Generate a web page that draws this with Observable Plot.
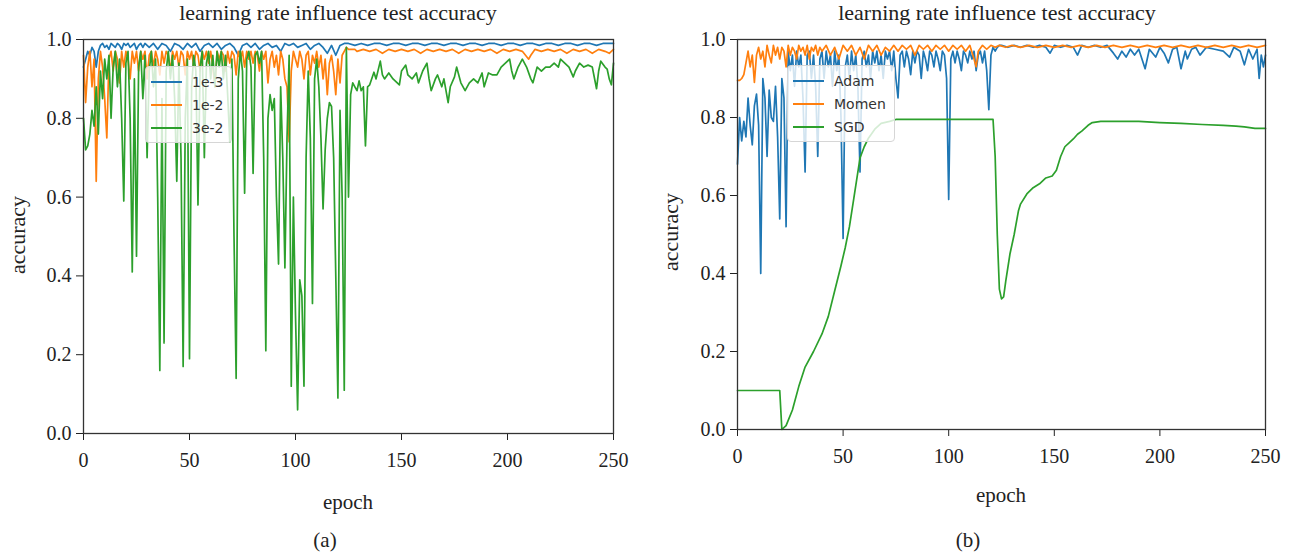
<!DOCTYPE html>
<html><head><meta charset="utf-8">
<script src="https://cdn.jsdelivr.net/npm/d3@7"></script>
<script src="https://cdn.jsdelivr.net/npm/@observablehq/plot@0.6"></script>
<style>
body{margin:0;background:#fff;}
#wrap{position:relative;width:1301px;height:557px;overflow:hidden;font-family:"Liberation Serif",serif;color:#222;}
.t{position:absolute;white-space:nowrap;transform:translate(-50%,-50%);font-size:21px;}
.ti{position:absolute;white-space:nowrap;transform:translate(-50%,-50%);font-size:22px;}
.yl{position:absolute;white-space:nowrap;transform:translate(-50%,-50%) rotate(-90deg);font-size:22px;}
.panel{position:absolute;top:28px;}
.leg{position:absolute;background:rgba(255,255,255,0.8);border:1px solid #d6d6d6;border-radius:4px;font-family:"DejaVu Sans",sans-serif;font-size:14px;color:#333;padding:3px 8px 3px 5px;}
.leg div{display:flex;align-items:center;height:23px;}
.leg span.sw{display:inline-block;width:31px;height:0;border-top:2px solid;margin-right:10px;}
</style></head>
<body><div id="wrap"></div>
<script>
const epochTicks = [0, 50, 100, 150, 200, 250];
const accTicks = [0, 0.2, 0.4, 0.6, 0.8, 1.0];
const lrNames = ["1e-3", "1e-2", "3e-2"];
const advNames = ["Adam", "Momen", "SGD"];
const title = "learning rate influence test accuracy";

// ---------- panel (a): learning rate ----------
// 1e-3 : values for epochs 0..29, then [epoch, value]
const lr1e3Early = [0.93,0.95,0.97,0.96,0.98,0.97,0.93,0.97,0.985,0.99,0.98,0.985,0.975,0.99,0.985,0.98,0.99,0.985,0.975,0.99,0.985,0.99,0.98,0.985,0.99,0.975,0.985,0.99,0.98,0.99];
const lr1e3Late = [[31,0.98],[33,0.99],[35,0.975],[37,0.99],[39,0.985],[41,0.97],[43,0.99],[45,0.985],[47,0.975],[49,0.99],[51,0.98],[53,0.99],[55,0.97],[57,0.985],[59,0.99],[61,0.98],[63,0.99],[65,0.975],[67,0.985],[69,0.99],[71,0.98],[73,0.96],[75,0.985],[77,0.99],[79,0.98],[81,0.99],[83,0.975],[85,0.985],[87,0.99],[89,0.98],[91,0.985],[93,0.97],[95,0.99],[97,0.985],[99,0.99],[101,0.98],[103,0.985],[105,0.99],[107,0.975],[109,0.985],[111,0.99],[113,0.98],[115,0.965],[117,0.985],[119,0.96],[121,0.985],[123,0.99],[125,0.99],[128,0.985],[131,0.99],[134,0.985],[137,0.99],[140,0.99],[143,0.985],[146,0.99],[149,0.99],[152,0.985],[155,0.99],[158,0.99],[161,0.985],[164,0.99],[167,0.99],[170,0.985],[173,0.99],[176,0.99],[179,0.985],[182,0.99],[185,0.99],[188,0.985],[191,0.99],[194,0.99],[197,0.985],[200,0.99],[203,0.99],[206,0.985],[209,0.99],[212,0.99],[215,0.985],[218,0.99],[221,0.99],[224,0.985],[227,0.99],[230,0.99],[233,0.985],[236,0.99],[239,0.99],[242,0.985],[245,0.99],[248,0.99],[250,0.99]];

// 1e-2 : values for epochs 0..125, then [epoch, value]
const lr1e2Early = [0.96,0.84,0.93,0.97,0.88,0.95,0.64,0.90,0.97,0.93,0.85,0.75,0.95,0.97,0.92,0.97,0.95,0.89,0.97,0.93,
0.97,0.95,0.90,0.97,0.94,0.97,0.92,0.97,0.95,0.97,0.90,0.96,0.97,0.93,0.97,0.95,0.91,0.97,0.94,0.97,
0.96,0.92,0.97,0.95,0.97,0.93,0.97,0.96,0.91,0.97,0.95,0.97,0.93,0.97,0.96,0.92,0.97,0.95,0.97,0.94,
0.97,0.93,0.88,0.97,0.95,0.97,0.96,0.92,0.97,0.94,0.97,0.96,0.91,0.97,0.95,0.97,0.93,0.97,0.95,0.97,
0.94,0.97,0.96,0.92,0.97,0.95,0.97,0.89,0.95,0.97,0.93,0.96,0.91,0.97,0.95,0.90,0.88,0.74,0.92,0.97,
0.95,0.93,0.97,0.95,0.90,0.96,0.97,0.91,0.96,0.94,0.97,0.93,0.96,0.90,0.95,0.86,0.94,0.96,0.92,0.86,
0.95,0.89,0.96,0.97,0.98,0.975];
const lr1e2Late = [[128,0.975],[129,0.97],[132,0.975],[135,0.97],[138,0.975],[141,0.965],[144,0.975],[147,0.97],[150,0.975],[153,0.97],[156,0.975],[159,0.965],[162,0.975],[165,0.97],[168,0.975],[171,0.97],[174,0.975],[177,0.965],[180,0.975],[183,0.97],[186,0.975],[189,0.97],[192,0.975],[195,0.965],[198,0.975],[201,0.97],[204,0.975],[207,0.97],[210,0.95],[211,0.96],[213,0.975],[216,0.97],[219,0.975],[222,0.97],[225,0.975],[228,0.965],[231,0.975],[234,0.97],[237,0.975],[240,0.965],[243,0.975],[246,0.97],[248,0.965],[250,0.975]];

// 3e-2 : values for epochs 0..127, then [epoch, value]
const lr3e2Early = [0.80,0.72,0.73,0.76,0.82,0.78,0.88,0.76,0.92,0.85,0.95,0.90,0.96,0.80,0.93,0.97,0.88,0.95,0.80,0.59,
0.94,0.97,0.80,0.41,0.90,0.45,0.93,0.97,0.85,0.96,0.70,0.92,0.97,0.88,0.95,0.60,0.16,0.85,0.23,0.92,
0.97,0.90,0.96,0.85,0.64,0.94,0.70,0.17,0.80,0.95,0.19,0.88,0.96,0.92,0.58,0.93,0.97,0.70,0.94,0.97,
0.90,0.96,0.88,0.97,0.93,0.97,0.90,0.96,0.86,0.74,0.95,0.50,0.14,0.90,0.97,0.92,0.61,0.95,0.97,0.93,
0.66,0.96,0.97,0.94,0.97,0.70,0.21,0.80,0.86,0.82,0.85,0.60,0.43,0.88,0.70,0.42,0.75,0.96,0.12,0.60,
0.30,0.06,0.39,0.35,0.12,0.70,0.92,0.75,0.33,0.90,0.95,0.88,0.75,0.57,0.72,0.80,0.84,0.83,0.70,0.40,
0.09,0.82,0.60,0.11,0.98,0.60,0.86,0.89];
const lr3e2Late = [[128,0.88],[129,0.87],[130,0.895],[131,0.87],[132,0.88],[133,0.73],[134,0.88],[135,0.885],[137,0.917],[138,0.90],[140,0.945],[141,0.91],[142,0.90],[144,0.915],[146,0.90],[148,0.89],[149,0.885],[150,0.92],[152,0.935],[153,0.91],[155,0.90],[157,0.915],[158,0.89],[160,0.92],[162,0.94],[163,0.90],[164,0.87],[166,0.90],[167,0.91],[169,0.88],[170,0.90],[172,0.84],[173,0.88],[175,0.905],[176,0.93],[178,0.89],[180,0.87],[182,0.89],[184,0.90],[186,0.89],[188,0.915],[189,0.88],[191,0.915],[193,0.91],[195,0.91],[197,0.93],[199,0.94],[201,0.95],[202,0.92],[203,0.90],[205,0.93],[207,0.95],[209,0.93],[211,0.90],[212,0.89],[214,0.93],[216,0.92],[218,0.93],[220,0.93],[222,0.94],[224,0.93],[225,0.95],[227,0.94],[229,0.93],[231,0.905],[232,0.92],[234,0.94],[236,0.93],[238,0.935],[240,0.93],[242,0.875],[243,0.92],[244,0.945],[246,0.93],[247,0.925],[248,0.90],[249,0.885],[250,0.94]];

// ---------- panel (b): optimizers ----------
// Adam : values for epochs 0..124, then [epoch, value]
const adamEarly = [0.68,0.80,0.74,0.79,0.75,0.85,0.78,0.73,0.83,0.86,0.78,0.40,0.90,0.85,0.70,0.87,0.80,0.79,0.88,0.75,
0.54,0.90,0.85,0.52,0.97,0.92,0.96,0.88,0.97,0.93,0.96,0.85,0.66,0.96,0.97,0.90,0.96,0.88,0.70,0.95,
0.97,0.90,0.97,0.93,0.96,0.88,0.97,0.92,0.96,0.80,0.49,0.93,0.96,0.90,0.97,0.92,0.96,0.88,0.66,0.95,
0.97,0.93,0.96,0.90,0.97,0.94,0.97,0.92,0.96,0.90,0.97,0.95,0.97,0.92,0.97,0.90,0.85,0.96,0.97,0.93,
0.97,0.95,0.91,0.97,0.94,0.97,0.96,0.90,0.97,0.95,0.92,0.97,0.96,0.93,0.97,0.95,0.92,0.97,0.96,0.90,
0.59,0.95,0.97,0.94,0.97,0.95,0.92,0.97,0.96,0.94,0.97,0.95,0.97,0.92,0.96,0.97,0.94,0.97,0.92,0.82,
0.96,0.98,0.97,0.98,0.985];
const adamLate = [[125,0.985],[128,0.98],[131,0.985],[134,0.98],[137,0.985],[140,0.98],[143,0.985],[146,0.98],[148,0.965],[150,0.985],[153,0.98],[156,0.985],[159,0.98],[161,0.96],[163,0.985],[166,0.98],[169,0.985],[172,0.98],[175,0.985],[178,0.965],[180,0.95],[182,0.97],[184,0.955],[186,0.975],[188,0.96],[190,0.975],[193,0.925],[195,0.975],[198,0.955],[200,0.98],[202,0.965],[204,0.94],[206,0.975],[208,0.98],[210,0.925],[212,0.97],[213,0.95],[215,0.975],[217,0.98],[219,0.96],[222,0.98],[226,0.975],[230,0.97],[233,0.955],[235,0.98],[238,0.97],[240,0.935],[242,0.975],[244,0.95],[246,0.975],[247,0.90],[248,0.96],[249,0.93],[250,0.96]];

// Momen : values for epochs 0..40, then [epoch, value]
const momenEarly = [0.895,0.895,0.90,0.91,0.94,0.97,0.93,0.96,0.89,0.96,0.98,0.95,0.97,0.93,0.985,0.96,0.94,0.985,0.96,0.98,
0.95,0.98,0.97,0.93,0.985,0.96,0.98,0.97,0.95,0.985,0.97,0.98,0.96,0.985,0.95,0.98,0.97,0.985,0.96,0.98,0.97];
const momenLate = [[42,0.985],[44,0.96],[46,0.98],[48,0.95],[50,0.985],[52,0.97],[54,0.985],[56,0.96],[58,0.98],[60,0.95],[62,0.985],[64,0.97],[66,0.985],[68,0.96],[70,0.98],[72,0.97],[74,0.985],[76,0.97],[78,0.985],[80,0.975],[82,0.985],[84,0.96],[86,0.985],[88,0.975],[90,0.985],[92,0.97],[94,0.985],[96,0.975],[98,0.985],[100,0.97],[102,0.985],[104,0.975],[106,0.985],[108,0.97],[110,0.985],[112,0.95],[113,0.93],[114,0.97],[116,0.985],[118,0.975],[120,0.985],[122,0.98],[124,0.985],[127,0.98],[130,0.985],[134,0.98],[138,0.985],[142,0.98],[146,0.985],[150,0.98],[154,0.985],[158,0.98],[162,0.985],[166,0.98],[170,0.985],[174,0.98],[178,0.985],[182,0.98],[186,0.985],[190,0.98],[194,0.985],[198,0.98],[202,0.985],[206,0.98],[210,0.985],[214,0.98],[218,0.985],[222,0.98],[226,0.985],[230,0.98],[234,0.985],[238,0.98],[242,0.985],[246,0.98],[250,0.985]];

// SGD : [epoch, value]
const sgd = [[0,0.1],[5,0.1],[10,0.1],[15,0.1],[20,0.1],[21,0.0],[23,0.01],[26,0.05],[29,0.11],[32,0.16],[36,0.20],[40,0.245],[43,0.29],[46,0.355],[49,0.42],[51,0.466],[53,0.52],[55,0.59],[58,0.696],[60,0.725],[62,0.747],[65,0.77],[68,0.785],[72,0.79],[75,0.795],[80,0.795],[90,0.795],[100,0.795],[110,0.795],[121,0.795],[122,0.70],[123,0.50],[124,0.36],[125,0.335],[126,0.34],[127,0.38],[129,0.45],[131,0.50],[133,0.56],[134,0.578],[137,0.604],[140,0.62],[143,0.63],[146,0.645],[149,0.65],[151,0.665],[153,0.70],[155,0.725],[157,0.735],[159,0.745],[161,0.757],[163,0.765],[166,0.78],[168,0.787],[172,0.79],[180,0.79],[190,0.79],[200,0.787],[210,0.785],[220,0.782],[230,0.78],[236,0.778],[240,0.776],[245,0.772],[250,0.772]];

const colors = ["#1f77b4", "#ff7f0e", "#2ca02c"];

function toRows(early, late) {
  const rows = early.map((v, i) => ({epoch: i, acc: v}));
  const last = rows.length - 1;
  late.forEach(([e, v]) => { if (e > last) rows.push({epoch: e, acc: v}); });
  return rows;
}

const panelA = [toRows(lr1e3Early, lr1e3Late), toRows(lr1e2Early, lr1e2Late), toRows(lr3e2Early, lr3e2Late)];
const panelB = [toRows(adamEarly, adamLate), toRows(momenEarly, momenLate), toRows([], sgd)];

function makePanel(series, opts) {
  return Plot.plot({
    width: opts.width, height: opts.height,
    marginLeft: opts.ml, marginRight: opts.mr, marginTop: opts.mt, marginBottom: opts.mb,
    style: {fontFamily: "'Liberation Serif', serif", fontSize: "20px", color: "#222", background: "transparent", overflow: "visible"},
    x: {domain: [0, 250], ticks: epochTicks, tickSize: 7, tickPadding: 12, label: null},
    y: {domain: [0, 1], ticks: accTicks, tickFormat: d3.format(".1f"), tickSize: 7, tickPadding: 5, label: null},
    marks: [
      ...series.map((rows, i) => Plot.line(rows, {x: "epoch", y: "acc", stroke: colors[i], strokeWidth: 1.7})),
      Plot.frame({stroke: "#333", strokeWidth: 1.3})
    ]
  });
}

const wrap = document.getElementById("wrap");
const pa = makePanel(panelA, {width: 650, height: 500, ml: 83, mr: 37, mt: 11, mb: 95});
const pb = makePanel(panelB, {width: 651, height: 496, ml: 87, mr: 36, mt: 11, mb: 95});
const da = document.createElement("div"); da.className = "panel"; da.style.left = "0px"; da.appendChild(pa); wrap.appendChild(da);
const db = document.createElement("div"); db.className = "panel"; db.style.left = "650px"; db.appendChild(pb); wrap.appendChild(db);

function addText(txt, x, y, cls) {
  const d = document.createElement("div"); d.className = cls || "t"; d.textContent = txt;
  d.style.left = x + "px"; d.style.top = y + "px"; wrap.appendChild(d);
}
addText(title, 338, 13, "ti");
addText(title, 997, 13, "ti");
addText("epoch", 348, 502);
addText("epoch", 1001, 495);
addText("(a)", 325, 540);
addText("(b)", 968, 540);
addText("accuracy", 18, 235, "yl");
addText("accuracy", 671, 232, "yl");

function addLegend(names, x, y) {
  const L = document.createElement("div"); L.className = "leg";
  L.style.left = x + "px"; L.style.top = y + "px";
  names.forEach((n, i) => {
    const r = document.createElement("div");
    const s = document.createElement("span"); s.className = "sw"; s.style.borderColor = colors[i];
    r.appendChild(s); r.appendChild(document.createTextNode(n)); L.appendChild(r);
  });
  wrap.appendChild(L);
}
addLegend(lrNames, 145, 66);
addLegend(advNames, 787, 65);
</script></body></html>
